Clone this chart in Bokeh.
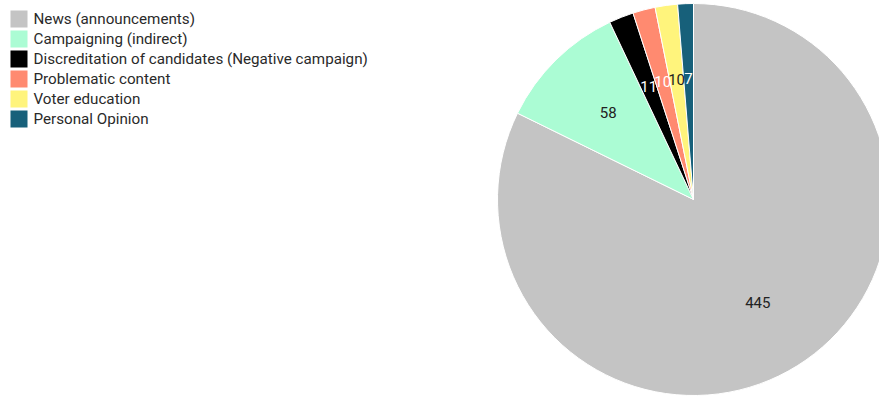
import math
from bokeh.plotting import figure
from bokeh.models import ColumnDataSource, Range1d
from bokeh.core.properties import value
from bokeh.embed import file_html
from bokeh.resources import INLINE

categories = ["News (announcements)", "Campaigning (indirect)",
              "Discreditation of candidates (Negative campaign)",
              "Problematic content", "Voter education", "Personal Opinion"]
counts = [445, 58, 11, 10, 10, 7]
colors = ["#c4c4c4", "#abfcd4", "#000000", "#ff8a70", "#fff47c", "#17607a"]
label_colors = ["#222222", "#222222", "#ffffff", "#ffffff", "#222222", "#ffffff"]

W, H = 879, 396
cx, cy, r = 693, 197, 196
total = sum(counts)

starts, ends, lx, ly = [], [], [], []
acc = 0
for c in counts:
    a0 = math.pi / 2 - acc / total * 2 * math.pi
    acc += c
    a1 = math.pi / 2 - acc / total * 2 * math.pi
    starts.append(a0)
    ends.append(a1)
    mid = (a0 + a1) / 2
    lx.append(cx + 0.62 * r * math.cos(mid))
    ly.append(cy + 0.62 * r * math.sin(mid))

# legend layout (pixel positions)
row_y = [H - 18.5 - 20 * i for i in range(len(categories))]
sq_x = [18.5] * len(categories)
tx = [33] * len(categories)

src = ColumnDataSource(dict(cat=categories, val=counts, color=colors,
                            start=starts, end=ends, lx=lx, ly=ly,
                            lab=[str(v) for v in counts], lc=label_colors,
                            ry=row_y, sx=sq_x, tx=tx))

p = figure(width=W, height=H, output_backend="svg", toolbar_location=None,
           x_range=Range1d(0, W), y_range=Range1d(0, H), min_border=0)
p.axis.visible = False
p.grid.visible = False
p.outline_line_color = None

p.wedge(x=cx, y=cy, radius=r, start_angle="start", end_angle="end",
        direction="clock", fill_color="color", line_color="white",
        line_width=1, source=src)

p.text(x="lx", y="ly", text="lab", text_color="lc", source=src,
       text_align="center", text_baseline="middle",
       text_font=value("Roboto"), text_font_size="15px")

# legend
p.rect(x="sx", y="ry", width=17, height=17, fill_color="color",
       line_color=None, source=src)
p.text(x="tx", y="ry", text="cat", text_color="#2a2a2a", source=src,
       text_align="left", text_baseline="middle",
       text_font=value("Roboto"), text_font_size="15.2px")

open("out.html", "w").write(file_html(p, INLINE))
